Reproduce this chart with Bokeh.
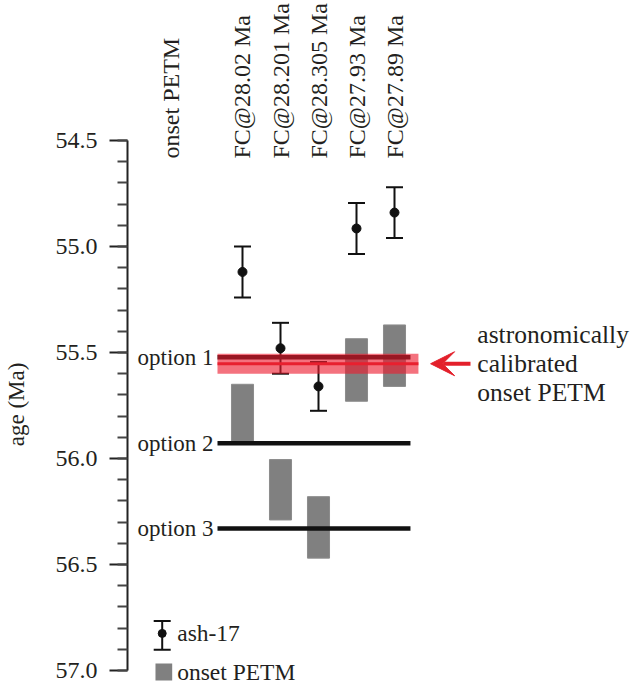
import math
from bokeh.plotting import figure
from bokeh.models import (Range1d, LinearAxis, FixedTicker, Whisker, TeeHead,
                          ColumnDataSource, Arrow, VeeHead)
from bokeh.core.properties import value
from bokeh.embed import file_html
from bokeh.resources import INLINE

# ---------------- data ----------------
columns = ["FC@28.02 Ma", "FC@28.201 Ma", "FC@28.305 Ma", "FC@27.93 Ma", "FC@27.89 Ma"]
col_x = [1, 2, 3, 4, 5]
# ash-17 ages (Ma) with uncertainty
ash_age = [55.12, 55.48, 55.66, 54.915, 54.84]
ash_err = [0.12, 0.12, 0.115, 0.12, 0.12]
# onset PETM age ranges (Ma)
petm_top = [55.65, 56.005, 56.18, 55.435, 55.37]
petm_bottom = [55.93, 56.29, 56.47, 55.73, 55.66]
# options
option_names = ["option 1", "option 2", "option 3"]
option_age = [55.522, 55.928, 56.33]
# astronomically calibrated onset PETM
astro_onset = 55.553
astro_low = 55.506
astro_high = 55.600

y_major = [54.5, 55.0, 55.5, 56.0, 56.5, 57.0]
y_major_labels = ["54.5", "55.0", "55.5", "56.0", "56.5", "57.0"]
y_minor = [round(54.5 + 0.1 * i, 1) for i in range(26)]

FONT = value("Liberation Serif")
TXT = "#231f20"
AXIS_X = -2.0263   # data x where the age axis stands

p = figure(width=630, height=685, output_backend="svg", toolbar_location=None,
           x_range=Range1d(-5.3684, 11.2105), y_range=Range1d(57.0708, 53.8396),
           min_border_left=0, min_border_right=0, min_border_top=0, min_border_bottom=0,
           x_axis_location=None, y_axis_location=None)
p.outline_line_color = None
p.xgrid.visible = False
p.ygrid.visible = False
p.background_fill_color = "white"

yaxis = LinearAxis(ticker=FixedTicker(ticks=y_major, minor_ticks=y_minor),
                   bounds=(54.5, 57.0), fixed_location=AXIS_X)
yaxis.axis_line_color = "#222222"
yaxis.axis_line_width = 2
yaxis.major_tick_line_color = "#222222"
yaxis.major_tick_line_width = 2
yaxis.major_tick_out = 18
yaxis.major_tick_in = 0
yaxis.minor_tick_line_color = "#444444"
yaxis.minor_tick_line_width = 2
yaxis.minor_tick_out = 10
yaxis.minor_tick_in = 0
yaxis.major_label_text_font_size = "0px"
yaxis.major_label_text_alpha = 0
p.add_layout(yaxis, "left")

# tick labels (serif) and axis title
p.text(x=[-2.8158] * len(y_major), y=y_major, text=y_major_labels,
       text_align="right", text_baseline="middle", text_font=FONT,
       text_font_size="24px", text_color=TXT)
p.text(x=[-4.947], y=[55.745], text=["age (Ma)"], angle=math.pi / 2,
       text_align="center", text_baseline="middle", text_font=FONT,
       text_font_size="23px", text_color=TXT)

# column headers (rotated)
head_x = [-0.87] + col_x
head_t = ["onset PETM"] + columns
p.text(x=head_x, y=[54.585] * len(head_x), text=head_t, angle=math.pi / 2,
       text_align="left", text_baseline="middle", text_font=FONT,
       text_font_size="24px", text_color=TXT)

# onset PETM bars
p.vbar(x=col_x, width=0.58, top=petm_top, bottom=petm_bottom,
       fill_color="#808080", line_color="#8c8c8c", line_width=1)

# option lines
line_x0, line_x1 = 0.342, 5.42
band_x1 = 5.63
p.segment(x0=[line_x0] * 3, x1=[line_x1] * 3, y0=option_age, y1=option_age,
          line_color="#111111", line_width=4.5)
p.text(x=[0.24] * 3, y=option_age, text=option_names, text_align="right",
       text_baseline="middle", text_font=FONT, text_font_size="23px", text_color=TXT)

# ash-17 error bars
src = ColumnDataSource(dict(x=col_x, y=ash_age,
                            lo=[a - e for a, e in zip(ash_age, ash_err)],
                            hi=[a + e for a, e in zip(ash_age, ash_err)]))
wh = Whisker(base="x", lower="lo", upper="hi", source=src, dimension="height",
             line_color="#111111", line_width=2,
             lower_head=TeeHead(size=17, line_color="#111111", line_width=2),
             upper_head=TeeHead(size=17, line_color="#111111", line_width=2))
p.add_layout(wh)
p.scatter(x="x", y="y", source=src, size=9, color="#111111")

# astronomical band
p.quad(left=[line_x0], right=[band_x1], bottom=[astro_low], top=[astro_high],
       fill_color="#ee1c2e", fill_alpha=0.62, line_color=None, level="overlay")
p.segment(x0=[line_x0], x1=[band_x1], y0=[astro_onset], y1=[astro_onset],
          line_color="#e8202f", line_width=3, level="overlay")

# arrow
p.add_layout(Arrow(x_start=7.0, x_end=5.95, y_start=astro_onset, y_end=astro_onset,
                   line_color="#e3202b", line_width=4,
                   end=VeeHead(size=24, fill_color="#e3202b", line_color="#e3202b")))
p.text(x=[7.18], y=[astro_onset], text=["astronomically\ncalibrated\nonset PETM"],
       text_align="left", text_baseline="middle", text_font=FONT,
       text_font_size="25.5px", text_color=TXT, text_line_height=1.0)

# legend
leg_src = ColumnDataSource(dict(x=[-1.113], y=[56.825], lo=[56.767], hi=[56.902]))
p.add_layout(Whisker(base="x", lower="lo", upper="hi", source=leg_src, dimension="height",
                     line_color="#111111", line_width=2,
                     lower_head=TeeHead(size=17, line_color="#111111", line_width=2),
                     upper_head=TeeHead(size=17, line_color="#111111", line_width=2)))
p.scatter(x="x", y="y", source=leg_src, size=8, color="#111111")
p.quad(left=[-1.29], right=[-0.85], top=[56.967], bottom=[57.047],
       fill_color="#808080", line_color=None)
p.text(x=[-0.718, -0.718], y=[56.825, 57.008], text=["ash-17", "onset PETM"],
       text_align="left", text_baseline="middle", text_font=FONT,
       text_font_size="23.5px", text_color=TXT)

open("out.html", "w").write(file_html(p, INLINE))
